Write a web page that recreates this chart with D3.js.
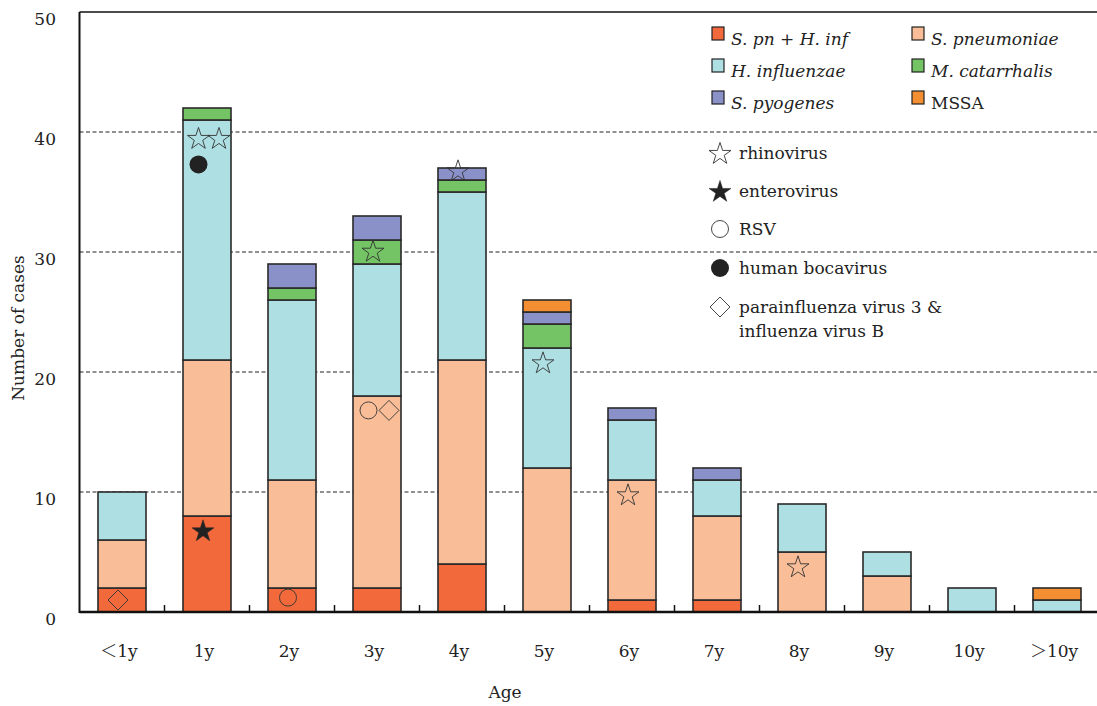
<!DOCTYPE html>
<html>
<head>
<meta charset="utf-8">
<script src="https://cdn.jsdelivr.net/npm/d3@7"></script>
<style>
  html, body { margin: 0; padding: 0; background: #fff; }
  svg { display: block; font-family: "DejaVu Serif", serif; }
</style>
</head>
<body>
<svg id="chart" width="1097" height="706"></svg>
<script>
// Age groups on the x axis
const ages = ["＜1y", "1y", "2y", "3y", "4y", "5y", "6y", "7y", "8y", "9y", "10y", "＞10y"];

// Bacterial isolates per age group (stacked from the bottom up)
const spnHinf      = [2, 8, 2, 2, 4, 0, 1, 1, 0, 0, 0, 0];
const sPneumoniae  = [4, 13, 9, 16, 17, 12, 10, 7, 5, 3, 0, 0];
const hInfluenzae  = [4, 20, 15, 11, 14, 10, 5, 3, 4, 2, 2, 1];
const mCatarrhalis = [0, 1, 1, 2, 1, 2, 0, 0, 0, 0, 0, 0];
const sPyogenes    = [0, 0, 2, 2, 1, 1, 1, 1, 0, 0, 0, 0];
const mssa         = [0, 0, 0, 0, 0, 1, 0, 0, 0, 0, 0, 1];

const seriesNames  = ["S. pn + H. inf", "S. pneumoniae", "H. influenzae", "M. catarrhalis", "S. pyogenes", "MSSA"];
const seriesItalic = [true, true, true, true, true, false];
const seriesColors = ["#f26a3c", "#f9be98", "#aedfe3", "#74c365", "#8a90c8", "#f38e33"];
const seriesValues = [spnHinf, sPneumoniae, hInfluenzae, mCatarrhalis, sPyogenes, mssa];

// Co-detected viruses: age group, height on the value axis, slot within the bar
const virusAge  = ["＜1y", "1y", "1y", "1y", "1y", "2y", "3y", "3y", "3y", "4y", "5y", "6y", "8y"];
const virusType = ["para", "rhino", "rhino", "boca", "entero", "rsv", "rhino", "rsv", "para", "rhino", "rhino", "rhino", "rhino"];
const virusVal  = [1, 39.5, 39.5, 37.3, 6.8, 1.2, 30.1, 16.8, 16.8, 36.8, 20.8, 9.8, 3.8];
const virusSlot = [0, -1, 1, -1, 0, 0, 0, -1, 1, 0, 0, 0, 0];

const virusTypes  = ["rhino", "entero", "rsv", "boca", "para"];
const virusLabels = [["rhinovirus"], ["enterovirus"], ["RSV"], ["human bocavirus"], ["parainfluenza virus 3 &", "influenza virus B"]];

const yTicks = [0, 10, 20, 30, 40, 50];

const svg = d3.select("#chart");
const plotLeft = 79.5, plotRight = 1099.5, plotTop = 12, plotBottom = 612;

const x = d3.scaleBand().domain(ages).range([plotLeft, plotRight]).paddingInner(0).paddingOuter(0);
const y = d3.scaleLinear().domain([0, 50]).range([plotBottom, plotTop]);
const barW = 48;
const slotShift = { "-1": -8.5, "0": -4, "1": 12 };

// Dashed horizontal grid
svg.append("g").selectAll("line")
  .data(yTicks.filter(t => t > 0 && t < 50))
  .join("line")
  .attr("x1", plotLeft).attr("x2", plotRight)
  .attr("y1", d => y(d)).attr("y2", d => y(d))
  .attr("stroke", "#222").attr("stroke-width", 1)
  .attr("stroke-dasharray", "4,2.5");

// Stacked bars
const rows = ages.map((a, i) => {
  const r = { age: a };
  seriesNames.forEach((s, k) => r[s] = seriesValues[k][i]);
  return r;
});
const stacked = d3.stack().keys(seriesNames)(rows);

const layers = svg.append("g").selectAll("g")
  .data(stacked)
  .join("g")
  .attr("fill", (d, k) => seriesColors[k]);

layers.selectAll("rect")
  .data(d => d.filter(p => p[1] > p[0]))
  .join("rect")
  .attr("x", p => x(p.data.age) + (x.bandwidth() - barW) / 2)
  .attr("width", barW)
  .attr("y", p => y(p[1]))
  .attr("height", p => y(p[0]) - y(p[1]))
  .attr("stroke", "#2a2a2a")
  .attr("stroke-width", 1.6);

// Virus markers
const starPath = d3.symbol().type(d3.symbolStar).size(150)();
const diamondPath = (() => {
  const s = 10;
  return `M0,${-s}L${s},0L0,${s}L${-s},0Z`;
})();

function drawMarker(g, type) {
  if (type === "rhino") {
    g.append("path").attr("d", starPath).attr("fill", "none").attr("stroke", "#333").attr("stroke-width", 0.9)
      .attr("transform", "translate(0,1)");
  } else if (type === "entero") {
    g.append("path").attr("d", starPath).attr("fill", "#222").attr("stroke", "#222").attr("stroke-width", 0.5)
      .attr("transform", "translate(0,1)");
  } else if (type === "rsv") {
    g.append("circle").attr("r", 8.5).attr("fill", "none").attr("stroke", "#333").attr("stroke-width", 0.9);
  } else if (type === "boca") {
    g.append("circle").attr("r", 9).attr("fill", "#222");
  } else if (type === "para") {
    g.append("path").attr("d", diamondPath).attr("fill", "none").attr("stroke", "#333").attr("stroke-width", 0.9);
  }
}

const markerG = svg.append("g");
virusAge.forEach((a, i) => {
  const cx = x(a) + x.bandwidth() / 2 + slotShift[virusSlot[i]];
  const g = markerG.append("g").attr("transform", `translate(${cx},${y(virusVal[i])})`);
  drawMarker(g, virusType[i]);
});

// Axes
const axisG = svg.append("g");
axisG.append("line").attr("x1", plotLeft).attr("x2", plotLeft).attr("y1", plotTop).attr("y2", plotBottom + 1)
  .attr("stroke", "#111").attr("stroke-width", 2);
axisG.append("line").attr("x1", plotLeft).attr("x2", plotRight).attr("y1", plotTop).attr("y2", plotTop)
  .attr("stroke", "#111").attr("stroke-width", 1.5);
axisG.append("line").attr("x1", plotLeft).attr("x2", plotRight).attr("y1", plotBottom).attr("y2", plotBottom)
  .attr("stroke", "#111").attr("stroke-width", 2.5);

// Small ticks between age groups
axisG.selectAll(".sep")
  .data(ages.slice(1))
  .join("line")
  .attr("x1", d => x(d)).attr("x2", d => x(d))
  .attr("y1", plotBottom).attr("y2", plotBottom - 7)
  .attr("stroke", "#111").attr("stroke-width", 1.5);

// Y tick labels
axisG.selectAll(".ylab")
  .data(yTicks)
  .join("text")
  .attr("x", 56)
  .attr("y", d => y(d) + 12.5)
  .attr("text-anchor", "end")
  .attr("font-size", 17)
  .attr("fill", "#222")
  .text(d => d);

// X tick labels (full-width comparison signs set in a CJK face)
axisG.selectAll(".xlab")
  .data(ages)
  .join("text")
  .attr("x", d => x(d) + x.bandwidth() / 2 - 3)
  .attr("y", 657)
  .attr("text-anchor", "middle")
  .attr("font-size", 17)
  .attr("fill", "#222")
  .each(function (d) {
    const t = d3.select(this);
    if (d[0] === "＜" || d[0] === "＞") {
      t.append("tspan").attr("font-family", "'Noto Sans CJK JP'").attr("font-weight", 300).text(d[0]);
      t.append("tspan").text(d.slice(1));
    } else {
      t.text(d);
    }
  });

// Axis titles
svg.append("text").attr("x", 505).attr("y", 698).attr("text-anchor", "middle")
  .attr("font-size", 17).attr("fill", "#222").text("Age");
svg.append("text").attr("transform", "translate(24,328) rotate(-90)").attr("text-anchor", "middle")
  .attr("font-size", 17).attr("fill", "#222").text("Number of cases");

// Legend: bacteria
const leg = svg.append("g");
seriesNames.forEach((s, k) => {
  const col = k % 2, row = Math.floor(k / 2);
  const lx = 712 + col * 200, ly = 33 + row * 32;
  leg.append("rect").attr("x", lx).attr("y", ly - 6).attr("width", 12).attr("height", 13)
    .attr("fill", seriesColors[k]).attr("stroke", "#222").attr("stroke-width", 1.2);
  leg.append("text").attr("x", lx + 19).attr("y", ly + 12)
    .attr("font-size", 17).attr("fill", "#222")
    .attr("font-style", seriesItalic[k] ? "italic" : "normal")
    .text(s);
});

// Legend: viruses
const vRowY = [153, 191, 229, 268, 307];
virusTypes.forEach((t, k) => {
  const g = leg.append("g").attr("transform", `translate(720,${vRowY[k]})`);
  drawMarker(g, t);
  virusLabels[k].forEach((line, j) => {
    leg.append("text").attr("x", 739).attr("y", vRowY[k] + 6 + j * 24)
      .attr("font-size", 17).attr("fill", "#222").text(line);
  });
});
</script>
</body>
</html>
